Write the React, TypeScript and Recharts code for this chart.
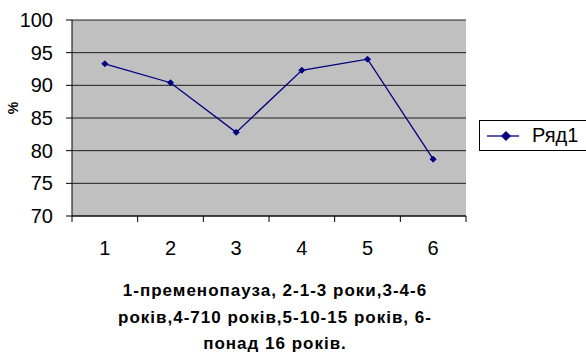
import React from "react";
import {
  LineChart,
  Line,
  XAxis,
  YAxis,
  CartesianGrid,
} from "recharts";

// groups along the x axis and the share (%) for each
const groups = [1, 2, 3, 4, 5, 6];
const series1 = [93.3, 90.4, 82.8, 92.3, 94.0, 78.7];
const yTicks = [70, 75, 80, 85, 90, 95, 100];
const bandEdges = [0.5, 1.5, 2.5, 3.5, 4.5, 5.5, 6.5];
const seriesName = "Ряд1";
const captionLines = [
  "1-пременопауза, 2-1-3 роки,3-4-6",
  "років,4-710 років,5-10-15 років, 6-",
  "понад 16 років.",
];

const NAVY = "#000080";
const FONT = "'Liberation Sans', Arial, sans-serif";

const data = groups.map((g, i) => ({ x: g, value: series1[i] }));

const Diamond = (props: any) => {
  const { cx, cy, r = 5 } = props;
  if (cx == null || cy == null) return null;
  return (
    <polygon
      points={`${cx},${cy - r} ${cx + r},${cy} ${cx},${cy + r} ${cx - r},${cy}`}
      fill={NAVY}
      stroke={NAVY}
    />
  );
};

const PercentLabel = (props: any) => {
  const { viewBox } = props;
  const x = viewBox.x + 13;
  const y = viewBox.y + viewBox.height / 2 - 10;
  return (
    <text
      x={x}
      y={y}
      transform={`rotate(-90, ${x}, ${y})`}
      textAnchor="middle"
      dominantBaseline="central"
      fontSize={14}
      fontWeight="bold"
      fontFamily={FONT}
      fill="#000"
    >
      %
    </text>
  );
};

export default function App() {
  return (
    <div
      style={{
        position: "absolute",
        left: 0,
        top: 0,
        width: 586,
        height: 356,
        background: "#fff",
        fontFamily: FONT,
        overflow: "hidden",
      }}
    >
      <LineChart
        width={586}
        height={356}
        data={data}
        margin={{ top: 20, right: 120, bottom: 102, left: 0 }}
      >
        <CartesianGrid
          vertical={false}
          fill="#C0C0C0"
          stroke="#000"
          strokeOpacity={0.85}
        />
        <XAxis
          xAxisId="edges"
          dataKey="x"
          type="number"
          domain={[0.5, 6.5]}
          ticks={bandEdges}
          tickFormatter={() => ""}
          tickSize={6}
          height={8}
          stroke="#000"
          allowDataOverflow
        />
        <XAxis
          xAxisId="labels"
          dataKey="x"
          type="number"
          domain={[0.5, 6.5]}
          ticks={groups}
          tickLine={false}
          axisLine={false}
          height={30}
          tickMargin={11}
          tick={{ fill: "#000", fontSize: 20, fontFamily: FONT }}
        />
        <YAxis
          domain={[70, 100]}
          ticks={yTicks}
          width={72}
          tickSize={6}
          tickMargin={13}
          stroke="#000"
          tick={{ fill: "#000", fontSize: 20, fontFamily: FONT }}
          label={<PercentLabel />}
        />
        <YAxis
          yAxisId="right"
          orientation="right"
          width={0}
          tick={false}
          tickLine={false}
          stroke="#909090"
        />
        <Line
          xAxisId="edges"
          dataKey="value"
          name={seriesName}
          stroke={NAVY}
          strokeWidth={1.3}
          dot={<Diamond />}
          activeDot={false}
          isAnimationActive={false}
        />
      </LineChart>

      {/* series legend */}
      <div
        style={{
          position: "absolute",
          left: 479,
          top: 120,
          width: 110,
          height: 29,
          border: "1px solid #000",
          display: "flex",
          alignItems: "center",
          background: "#fff",
          fontSize: 20,
        }}
      >
        <svg width={46} height={14} style={{ marginLeft: 6 }}>
          <line x1={1} y1={7} x2={33} y2={7} stroke={NAVY} strokeWidth={1.3} />
          <Diamond cx={20} cy={7} r={4.5} />
        </svg>
        <span>{seriesName}</span>
      </div>

      {/* axis caption */}
      <div
        style={{
          position: "absolute",
          left: 75,
          width: 400,
          top: 278,
          textAlign: "center",
          fontWeight: "bold",
          fontSize: 17,
          lineHeight: "26.5px",
          letterSpacing: 1,
        }}
      >
        {captionLines.map((l) => (
          <div key={l}>{l}</div>
        ))}
      </div>
    </div>
  );
}
